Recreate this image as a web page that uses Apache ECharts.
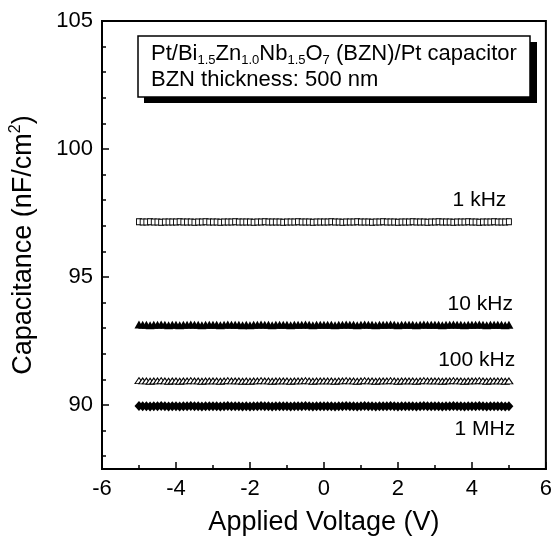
<!DOCTYPE html>
<html>
<head>
<meta charset="utf-8">
<script src="https://cdn.jsdelivr.net/npm/echarts@6/dist/echarts.min.js"></script>
<style>
  html, body { margin: 0; padding: 0; background: #fff; }
  #main { width: 555px; height: 541px; }
</style>
</head>
<body>
<div id="main"></div>
<script>
// applied voltage sweep (V)
var voltage = [
  -5.0,-4.9,-4.8,-4.7,-4.6,-4.5,-4.4,-4.3,-4.2,-4.1,
  -4.0,-3.9,-3.8,-3.7,-3.6,-3.5,-3.4,-3.3,-3.2,-3.1,
  -3.0,-2.9,-2.8,-2.7,-2.6,-2.5,-2.4,-2.3,-2.2,-2.1,
  -2.0,-1.9,-1.8,-1.7,-1.6,-1.5,-1.4,-1.3,-1.2,-1.1,
  -1.0,-0.9,-0.8,-0.7,-0.6,-0.5,-0.4,-0.3,-0.2,-0.1,
  0.0,0.1,0.2,0.3,0.4,0.5,0.6,0.7,0.8,0.9,
  1.0,1.1,1.2,1.3,1.4,1.5,1.6,1.7,1.8,1.9,
  2.0,2.1,2.2,2.3,2.4,2.5,2.6,2.7,2.8,2.9,
  3.0,3.1,3.2,3.3,3.4,3.5,3.6,3.7,3.8,3.9,
  4.0,4.1,4.2,4.3,4.4,4.5,4.6,4.7,4.8,4.9,
  5.0
];
// capacitance (nF/cm2) per frequency
var cap1k = [
  97.16,97.15,97.15,97.16,97.15,97.15,97.14,97.15,97.15,97.15,
  97.15,97.16,97.15,97.15,97.15,97.14,97.15,97.15,97.16,97.15,
  97.15,97.15,97.14,97.15,97.15,97.15,97.16,97.15,97.15,97.15,
  97.15,97.14,97.15,97.15,97.16,97.15,97.15,97.15,97.15,97.14,
  97.15,97.15,97.15,97.16,97.15,97.15,97.15,97.14,97.15,97.15,
  97.15,97.15,97.16,97.15,97.15,97.14,97.15,97.15,97.15,97.16,
  97.15,97.15,97.15,97.14,97.15,97.15,97.16,97.15,97.15,97.15,
  97.14,97.15,97.15,97.15,97.16,97.15,97.15,97.15,97.14,97.15,
  97.15,97.16,97.15,97.15,97.15,97.14,97.15,97.15,97.15,97.16,
  97.15,97.15,97.14,97.15,97.15,97.15,97.16,97.15,97.15,97.15,
  97.16
];
var cap10k = [
  93.14,93.13,93.13,93.12,93.13,93.13,93.14,93.13,93.12,93.13,
  93.13,93.12,93.13,93.13,93.14,93.13,93.13,93.12,93.13,93.13,
  93.13,93.13,93.12,93.13,93.14,93.13,93.13,93.13,93.12,93.13,
  93.12,93.13,93.13,93.14,93.13,93.13,93.12,93.13,93.13,93.13,
  93.13,93.12,93.13,93.13,93.13,93.14,93.13,93.12,93.13,93.13,
  93.13,93.13,93.13,93.12,93.13,93.13,93.14,93.13,93.13,93.12,
  93.13,93.14,93.13,93.13,93.12,93.13,93.13,93.13,93.14,93.13,
  93.12,93.13,93.13,93.13,93.13,93.12,93.13,93.14,93.13,93.13,
  93.13,93.13,93.12,93.13,93.13,93.14,93.13,93.13,93.12,93.13,
  93.13,93.13,93.14,93.13,93.12,93.13,93.13,93.13,93.13,93.12,
  93.13
];
var cap100k = [
  90.95,90.94,90.94,90.93,90.94,90.94,90.95,90.94,90.93,90.94,
  90.94,90.93,90.94,90.94,90.95,90.94,90.94,90.93,90.94,90.94,
  90.94,90.94,90.93,90.94,90.95,90.94,90.94,90.94,90.93,90.94,
  90.93,90.94,90.94,90.95,90.94,90.94,90.93,90.94,90.94,90.94,
  90.94,90.93,90.94,90.94,90.94,90.95,90.94,90.93,90.94,90.94,
  90.94,90.94,90.94,90.93,90.94,90.94,90.95,90.94,90.94,90.93,
  90.94,90.95,90.94,90.94,90.93,90.94,90.94,90.94,90.95,90.94,
  90.93,90.94,90.94,90.94,90.94,90.93,90.94,90.95,90.94,90.94,
  90.94,90.94,90.93,90.94,90.94,90.95,90.94,90.94,90.93,90.94,
  90.94,90.94,90.95,90.94,90.93,90.94,90.94,90.94,90.94,90.93,
  90.94
];
var cap1M = [
  89.96,89.95,89.95,89.94,89.95,89.95,89.96,89.95,89.94,89.95,
  89.95,89.94,89.95,89.95,89.96,89.95,89.95,89.94,89.95,89.95,
  89.95,89.95,89.94,89.95,89.96,89.95,89.95,89.95,89.94,89.95,
  89.94,89.95,89.95,89.96,89.95,89.95,89.94,89.95,89.95,89.95,
  89.95,89.94,89.95,89.95,89.95,89.96,89.95,89.94,89.95,89.95,
  89.95,89.95,89.95,89.94,89.95,89.95,89.96,89.95,89.95,89.94,
  89.95,89.96,89.95,89.95,89.94,89.95,89.95,89.95,89.96,89.95,
  89.94,89.95,89.95,89.95,89.95,89.94,89.95,89.96,89.95,89.95,
  89.95,89.95,89.94,89.95,89.95,89.96,89.95,89.95,89.94,89.95,
  89.95,89.95,89.96,89.95,89.94,89.95,89.95,89.95,89.95,89.94,
  89.95
];
var freqNames = ['1 kHz', '10 kHz', '100 kHz', '1 MHz'];
var yTickLabels = [90, 95, 100, 105];
var yMinorTicks = [88, 89, 91, 92, 93, 94, 96, 97, 98, 99, 101, 102, 103, 104];

var FONT = 'Liberation Sans, Arial, Helvetica, sans-serif';

function pairs(ys) {
  return voltage.map(function (v, i) { return [v, ys[i]]; });
}

function freqLabel(name, x, y) {
  return {
    symbol: 'circle',
    symbolSize: 0,
    silent: true,
    label: {
      show: true, position: 'left', distance: 0,
      color: '#000', fontSize: 21, fontFamily: FONT,
      formatter: name
    },
    data: [{ coord: [x, y] }]
  };
}

var chart = echarts.init(document.getElementById('main'));
chart.setOption({
  animation: false,
  backgroundColor: '#fff',
  grid: {
    left: 101, right: 7, top: 21, bottom: 71,
    show: true, borderColor: '#000', borderWidth: 2, backgroundColor: 'transparent'
  },
  xAxis: {
    type: 'value', min: -6, max: 6, interval: 2,
    name: 'Applied Voltage (V)', nameLocation: 'middle', nameGap: 40,
    nameTextStyle: { color: '#000', fontSize: 27, fontFamily: FONT },
    axisLine: { onZero: false, lineStyle: { color: '#000', width: 2 } },
    axisTick: { inside: true, length: 7, lineStyle: { color: '#000', width: 1.5 } },
    minorTick: { show: true, splitNumber: 2, length: 4, lineStyle: { color: '#000', width: 1.5 } },
    axisLabel: { color: '#000', fontSize: 22, fontFamily: FONT, margin: 9 },
    splitLine: { show: false }
  },
  yAxis: [{
    type: 'value', min: 87.5, max: 105,
    name: 'Capacitance (nF/cm{sup|2})', nameLocation: 'middle', nameGap: 62,
    nameTextStyle: {
      color: '#000', fontSize: 27, fontFamily: FONT, lineHeight: 32,
      rich: { sup: { fontSize: 16, fontFamily: FONT, color: '#000', verticalAlign: 'top', lineHeight: 16 } }
    },
    axisLine: { onZero: false, lineStyle: { color: '#000', width: 2 } },
    axisTick: { inside: true, length: 7, customValues: yTickLabels, lineStyle: { color: '#000', width: 1.5 } },
    axisLabel: { color: '#000', fontSize: 22, fontFamily: FONT, margin: 9, customValues: yTickLabels },
    splitLine: { show: false }
  }, {
    type: 'value', min: 87.5, max: 105, position: 'left',
    axisLine: { show: false, onZero: false },
    axisTick: { inside: true, length: 4, customValues: yMinorTicks, lineStyle: { color: '#000', width: 1.5 } },
    axisLabel: { show: false },
    splitLine: { show: false }
  }],
  series: [{
    name: freqNames[0], type: 'scatter', data: pairs(cap1k),
    symbol: 'rect', symbolSize: [5, 6],
    itemStyle: { color: '#fff', borderColor: '#000', borderWidth: 1, opacity: 1 },
    markPoint: freqLabel(freqNames[0], 4.93, 98.0)
  }, {
    name: freqNames[1], type: 'scatter', data: pairs(cap10k),
    symbol: 'triangle', symbolSize: [9, 8],
    itemStyle: { color: '#000', opacity: 1 },
    markPoint: freqLabel(freqNames[1], 5.11, 93.95)
  }, {
    name: freqNames[2], type: 'scatter', data: pairs(cap100k),
    symbol: 'triangle', symbolSize: [8, 6],
    itemStyle: { color: '#fff', borderColor: '#000', borderWidth: 1, opacity: 1 },
    markPoint: freqLabel(freqNames[2], 5.17, 91.75)
  }, {
    name: freqNames[3], type: 'scatter', data: pairs(cap1M),
    symbol: 'diamond', symbolSize: [9, 10],
    itemStyle: { color: '#000', opacity: 1 },
    markPoint: freqLabel(freqNames[3], 5.17, 89.06)
  }],
  graphic: [{
    type: 'rect', z: 10,
    shape: { x: 144, y: 42, width: 393, height: 61 },
    style: { fill: '#000' }
  }, {
    type: 'rect', z: 11,
    shape: { x: 138, y: 36, width: 392, height: 61 },
    style: { fill: '#fff', stroke: '#000', lineWidth: 1.5 }
  }, {
    type: 'text', z: 12, left: 151, top: 41,
    style: {
      text: 'Pt/Bi{s|1.5}Zn{s|1.0}Nb{s|1.5}O{s|7} (BZN)/Pt capacitor\nBZN thickness: 500 nm',
      fill: '#000', fontSize: 22, fontFamily: FONT, lineHeight: 26,
      rich: { s: { fontSize: 13, fontFamily: FONT, fill: '#000', verticalAlign: 'bottom', lineHeight: 13 } }
    }
  }]
});
</script>
</body>
</html>
